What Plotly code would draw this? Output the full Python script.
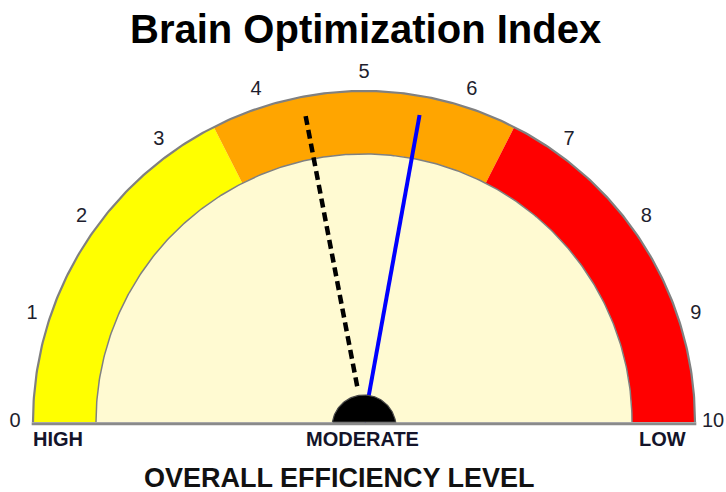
import numpy as np
import plotly.graph_objects as go

# ---- data ----
title = "Brain Optimization Index"
axis_title = "OVERALL EFFICIENCY LEVEL"
gauge_min, gauge_max = 0, 10
tick_values = list(range(0, 11))
tick_labels = [str(v) for v in tick_values]
band_starts = [0, 3.5, 6.5]
band_ends = [3.5, 6.5, 10]
band_colors = ["#FFFF00", "#FFA500", "#FF0000"]
zone_labels = ["HIGH", "MODERATE", "LOW"]
current_value = 5.57     # blue needle
reference_value = 4.4    # dashed needle

# ---- geometry (value space; outer radius = 1; 331 px per unit) ----
PX = 331.0
FIG_W, FIG_H = 726, 492
CX, CY = 364.0, 422.0            # gauge centre in figure pixels
R_OUT = 1.0
R_IN = 268 / PX
R_LABEL = 349 / PX
R_NEEDLE = 312 / PX
R_HUB = 32 / PX
HUB_DROP = 5 / PX


def ang(v):
    return np.pi * (1 - (v - gauge_min) / (gauge_max - gauge_min))


def arc(v0, v1, r, n=120):
    t = np.linspace(ang(v0), ang(v1), n)
    return r * np.cos(t), r * np.sin(t)


def px_x(fx):
    return (fx - CX) / PX


def px_y(fy):
    return (CY - fy) / PX


fig = go.Figure()

# baseline
fig.add_trace(go.Scatter(x=[-R_OUT - 0.004, R_OUT + 0.004], y=[-1.8 / PX, -1.8 / PX], mode="lines",
                         line=dict(color="#8a8a8a", width=3), hoverinfo="skip"))

# colour bands
for s, e, c in zip(band_starts, band_ends, band_colors):
    xo, yo = arc(s, e, R_OUT)
    xi, yi = arc(e, s, R_IN)
    fig.add_trace(go.Scatter(x=np.concatenate([xo, xi, xo[:1]]), y=np.concatenate([yo, yi, yo[:1]]),
                             mode="lines", fill="toself", fillcolor=c, line=dict(width=0),
                             hoverinfo="skip"))

# outer outline
xo, yo = arc(gauge_min, gauge_max, R_OUT, 300)
fig.add_trace(go.Scatter(x=xo, y=yo, mode="lines", line=dict(color="#808080", width=2.2),
                         hoverinfo="skip"))

# inner face
xi, yi = arc(gauge_min, gauge_max, R_IN, 300)
fig.add_trace(go.Scatter(x=np.concatenate([xi, xi[:1]]), y=np.concatenate([yi, yi[:1]]),
                         mode="lines", fill="toself", fillcolor="#FFFAD2", line=dict(width=0),
                         hoverinfo="skip"))
fig.add_trace(go.Scatter(x=xi, y=yi, mode="lines", line=dict(color="#808080", width=1.5),
                         hoverinfo="skip"))

# dashed reference needle
a = ang(reference_value)
fig.add_trace(go.Scatter(x=[0.11 * np.cos(a), R_NEEDLE * np.cos(a)],
                         y=[0.11 * np.sin(a), R_NEEDLE * np.sin(a)], mode="lines",
                         line=dict(color="#000000", width=4.5, dash="9px,5px"), hoverinfo="skip"))

# blue needle
a = ang(current_value)
fig.add_trace(go.Scatter(x=[0, R_NEEDLE * np.cos(a)], y=[0, R_NEEDLE * np.sin(a)], mode="lines",
                         line=dict(color="#0000FF", width=4), hoverinfo="skip"))

# hub (circle centred slightly below the baseline, top part only)
half = np.arccos(HUB_DROP / R_HUB)
t = np.linspace(np.pi / 2 + half, np.pi / 2 - half, 80)
xh = R_HUB * np.cos(t)
yh = R_HUB * np.sin(t) - HUB_DROP
fig.add_trace(go.Scatter(x=np.concatenate([xh, xh[:1]]), y=np.concatenate([yh, yh[:1]]),
                         mode="lines", fill="toself", fillcolor="#000000",
                         line=dict(color="#4a4a4a", width=1.2), hoverinfo="skip"))

# tick labels
tx = [R_LABEL * np.cos(ang(v)) for v in tick_values]
ty = [R_LABEL * np.sin(ang(v)) for v in tick_values]
fig.add_trace(go.Scatter(x=tx, y=ty, mode="text", text=tick_labels, cliponaxis=False,
                         textfont=dict(family="Liberation Sans, Arial", size=20, color="#1e1e2e"),
                         textposition="middle center", hoverinfo="skip"))

# zone labels
zone_px = [57.5, 362.0, 662.5]
for lab, fx in zip(zone_labels, zone_px):
    fig.add_annotation(x=px_x(fx), y=px_y(439), text=lab, showarrow=False,
                       xanchor="center", yanchor="middle",
                       font=dict(family="Liberation Sans, Arial", size=20, color="#14142a", weight="bold"))

fig.add_annotation(x=px_x(339), y=px_y(478), text=axis_title, showarrow=False,
                   xanchor="center", yanchor="middle",
                   font=dict(family="Liberation Sans, Arial", size=27, color="#111111", weight="bold"))

fig.add_annotation(x=px_x(365), y=px_y(29), text=title, showarrow=False,
                   xanchor="center", yanchor="middle",
                   font=dict(family="Liberation Sans, Arial", size=40, color="#000000", weight="bold"))

fig.update_layout(
    width=FIG_W, height=FIG_H,
    margin=dict(l=0, r=0, t=0, b=0),
    paper_bgcolor="white", plot_bgcolor="white",
    showlegend=False,
    hovermode=False,
    xaxis=dict(range=[px_x(0), px_x(FIG_W)], visible=False, fixedrange=True),
    yaxis=dict(range=[px_y(FIG_H), px_y(0)], visible=False, fixedrange=True),
)

fig.write_html("out.html",
               config={"displayModeBar": False, "staticPlot": True},
               post_script="document.body.style.margin='0px';document.body.style.overflow='hidden';")
